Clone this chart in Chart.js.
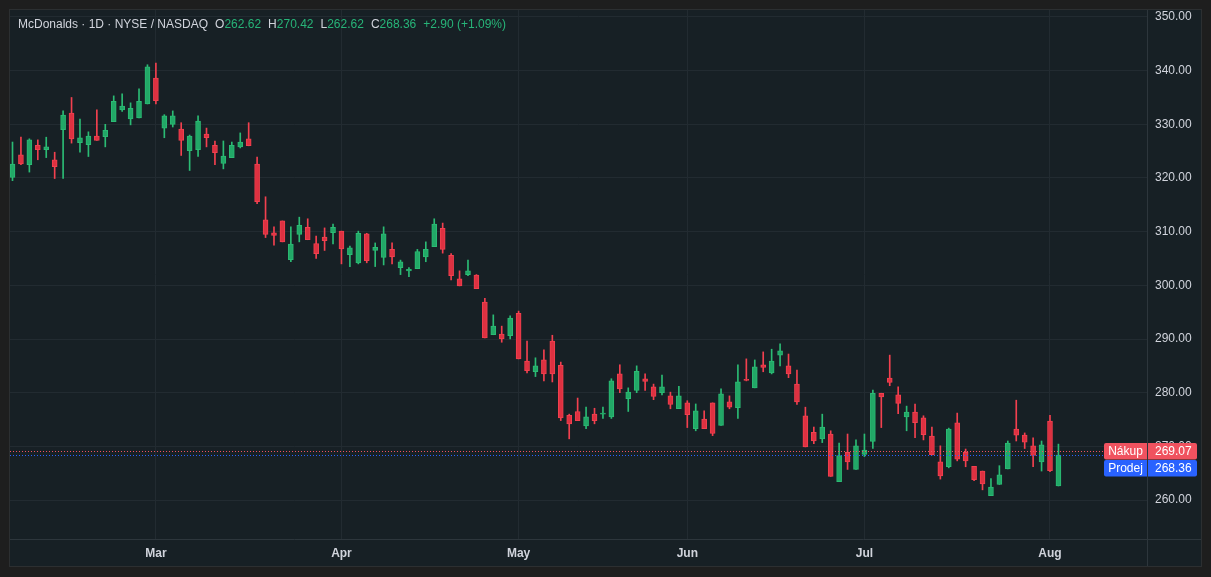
<!DOCTYPE html>
<html>
<head>
<meta charset="utf-8">
<script src="https://cdn.jsdelivr.net/npm/chart.js@4.4.1/dist/chart.umd.min.js"></script>
<style>
  html, body { margin: 0; padding: 0; background: #1e1e1e; width: 1211px; height: 577px; overflow: hidden; }
  #panel { position: absolute; left: 9px; top: 9px; width: 1191px; height: 556px; border: 1px solid #2c2f31; background: #172025; }
  #chart { position: absolute; left: 0; top: 0; width: 1191px; height: 556px; }
  #legend { position: absolute; left: 8px; top: 6px; font: 12px "Liberation Sans", Arial, sans-serif; color: #d1d4dc; line-height: 16px; white-space: nowrap; }
  #legend .v { color: #27b478; }
  #legend .g { margin-left: 7px; }
</style>
</head>
<body>
<div id="panel">
  <canvas id="chart" width="1191" height="556"></canvas>
  <div id="legend">McDonalds · 1D · NYSE / NASDAQ<span class="g">O<span class="v">262.62</span></span><span class="g">H<span class="v">270.42</span></span><span class="g">L<span class="v">262.62</span></span><span class="g">C<span class="v">268.36</span></span><span class="g v">+2.90 (+1.09%)</span></div>
</div>
<script>
// daily candles
const opens = [
  320.1, 324.3, 322.5, 326.1, 325.3, 323.4, 329.0, 332.1, 326.6, 326.2,
  327.8, 327.7, 330.5, 332.7, 331.0, 331.2, 333.8, 338.6, 329.3, 330.0,
  329.1, 325.1, 325.3, 328.2, 326.1, 322.7, 323.8, 325.8, 327.3, 322.6,
  312.2, 309.8, 312.0, 304.8, 309.5, 310.8, 307.8, 309.0, 309.8, 310.1,
  305.7, 304.2, 309.6, 306.5, 305.2, 306.7, 303.3, 302.7, 303.1, 305.3,
  307.2, 310.6, 305.6, 301.2, 302.0, 301.9, 296.9, 290.8, 290.9, 290.6,
  294.8, 285.9, 283.9, 286.1, 289.6, 285.1, 275.8, 276.5, 273.8, 276.0,
  276.0, 275.5, 283.5, 278.9, 280.4, 282.6, 281.1, 280.0, 279.4, 277.0,
  278.1, 273.3, 275.1, 278.1, 273.9, 278.3, 277.2, 282.5, 280.9, 285.2,
  283.7, 287.0, 285.0, 281.6, 275.7, 272.6, 271.4, 272.3, 263.4, 268.9,
  265.7, 268.5, 270.9, 279.9, 282.7, 279.6, 275.5, 276.4, 275.3, 271.9,
  267.1, 266.2, 274.4, 268.9, 266.3, 265.4, 260.8, 262.9, 265.8, 273.2,
  272.1, 270.1, 267.1, 274.7, 262.62
];
const highs = [
  326.7, 327.6, 327.3, 327.1, 327.6, 324.8, 332.5, 335.0, 331.0, 328.6,
  332.7, 330.0, 335.3, 335.7, 334.0, 336.6, 341.1, 341.4, 331.8, 332.5,
  330.3, 328.0, 331.6, 329.3, 326.9, 326.9, 326.7, 328.4, 330.3, 323.9,
  316.5, 310.9, 312.0, 310.9, 312.7, 312.4, 309.2, 310.7, 311.4, 310.1,
  307.3, 310.1, 309.7, 307.9, 310.9, 307.9, 304.7, 303.3, 306.7, 308.1,
  312.4, 311.6, 305.9, 302.7, 304.7, 302.0, 297.6, 294.5, 292.4, 294.3,
  295.2, 289.6, 286.5, 288.0, 290.7, 285.7, 276.0, 279.0, 277.3, 277.1,
  277.3, 282.6, 285.2, 280.9, 285.0, 283.5, 281.6, 283.3, 280.1, 281.2,
  278.5, 277.9, 276.6, 278.1, 280.7, 279.4, 285.2, 286.3, 286.1, 287.6,
  288.1, 289.1, 287.2, 284.2, 277.3, 273.6, 276.0, 272.9, 270.6, 272.3,
  271.2, 272.3, 280.5, 279.9, 287.0, 281.1, 277.5, 277.9, 275.7, 273.6,
  270.1, 273.4, 276.2, 269.5, 266.3, 265.4, 264.0, 266.4, 271.0, 278.6,
  272.5, 271.6, 271.0, 275.8, 270.42
];
const lows = [
  319.5, 322.5, 321.1, 323.4, 323.8, 319.9, 319.9, 326.5, 324.8, 324.0,
  327.0, 325.8, 330.5, 332.4, 329.9, 331.2, 333.8, 333.8, 327.5, 329.5,
  324.2, 321.4, 324.0, 325.8, 322.5, 321.7, 323.8, 325.6, 326.0, 315.2,
  308.9, 307.5, 308.1, 304.4, 308.1, 308.5, 305.0, 306.5, 307.7, 304.0,
  303.5, 304.0, 304.2, 303.5, 303.8, 304.0, 302.0, 301.6, 303.1, 304.4,
  307.2, 306.0, 301.0, 299.9, 301.8, 299.4, 290.2, 290.8, 289.4, 290.0,
  286.3, 283.7, 283.0, 282.2, 282.0, 274.8, 271.4, 274.8, 273.3, 274.2,
  275.2, 275.2, 280.0, 276.5, 280.0, 280.4, 278.7, 279.6, 277.0, 277.0,
  273.5, 272.9, 273.3, 272.0, 273.9, 277.0, 275.2, 282.2, 280.9, 283.9,
  283.5, 285.0, 282.8, 277.8, 269.9, 270.5, 270.7, 264.4, 263.4, 265.7,
  265.7, 268.1, 269.6, 273.5, 281.3, 276.1, 272.9, 271.6, 271.2, 268.4,
  263.9, 266.0, 267.3, 266.2, 263.6, 261.9, 260.8, 262.9, 265.8, 271.0,
  269.6, 266.2, 265.4, 265.3, 262.62
];
const closes = [
  322.6, 322.6, 327.1, 325.3, 325.8, 322.1, 331.7, 327.3, 327.5, 327.8,
  327.0, 328.9, 334.3, 333.4, 333.0, 334.3, 340.7, 334.4, 331.6, 331.6,
  327.0, 327.8, 330.6, 327.5, 324.7, 324.1, 326.1, 326.7, 326.0, 315.6,
  309.5, 309.3, 308.1, 307.7, 311.2, 308.5, 305.9, 308.3, 310.8, 306.8,
  307.0, 309.7, 304.6, 307.1, 309.6, 305.3, 304.4, 303.0, 306.3, 306.7,
  311.4, 306.7, 301.8, 299.9, 302.7, 299.4, 290.2, 292.4, 290.0, 293.9,
  286.3, 284.1, 285.0, 283.5, 283.5, 275.3, 274.2, 274.8, 275.5, 274.8,
  276.2, 282.2, 280.7, 280.1, 284.0, 282.1, 279.3, 281.1, 277.8, 279.4,
  275.9, 276.6, 273.3, 272.4, 279.8, 277.3, 282.0, 282.3, 284.8, 284.7,
  285.9, 287.8, 283.5, 278.3, 269.9, 271.0, 273.6, 264.4, 268.3, 267.1,
  270.1, 269.3, 279.9, 279.2, 281.9, 278.0, 276.4, 274.4, 272.2, 268.4,
  264.5, 273.2, 267.6, 267.3, 263.8, 263.0, 262.4, 264.7, 270.6, 272.1,
  270.8, 268.3, 270.3, 265.46, 268.36
];

// x axis: month names at the first trading day of each month
const monthIdx = [17, 39, 60, 80, 101, 123];
const monthNames = ['Mar', 'Apr', 'May', 'Jun', 'Jul', 'Aug'];
// y axis
const priceTicks = [260, 270, 280, 290, 300, 310, 320, 330, 340, 350];
// bid / ask marks
const buyPrice = 269.07;
const sellPrice = 268.36;

const UP = '#22a867', UP_EDGE = '#2bbb74';
const DOWN = '#de3141', DOWN_EDGE = '#f2404f';
const GRID = '#222b31';
const AXIS = '#2d363c';
const TEXT = '#d1d4dc';

const up = opens.map((o, i) => closes[i] >= o);
const wicks = opens.map((o, i) => ({ x: i, y: [lows[i], highs[i]] }));
const bodies = opens.map((o, i) => ({ x: i, y: [o, closes[i]] }));

const priceLines = {
  id: 'priceLines',
  afterDraw(chart) {
    const { ctx, chartArea: a, scales: { y } } = chart;
    const W = chart.width, H = chart.height;
    ctx.save();
    // axis separators running into the corner
    ctx.strokeStyle = AXIS;
    ctx.lineWidth = 1;
    ctx.beginPath();
    ctx.moveTo(a.right + 0.5, a.bottom);
    ctx.lineTo(a.right + 0.5, H);
    ctx.moveTo(a.right, a.bottom + 0.5);
    ctx.lineTo(W, a.bottom + 0.5);
    ctx.stroke();

    const yb = Math.round(y.getPixelForValue(buyPrice)) + 0.5;
    const ys = Math.round(y.getPixelForValue(sellPrice)) + 0.5;
    const badgeL = a.right - 43;
    ctx.setLineDash([1, 2]);
    ctx.strokeStyle = '#f0525f';
    ctx.beginPath(); ctx.moveTo(a.left, yb); ctx.lineTo(badgeL, yb); ctx.stroke();
    ctx.strokeStyle = '#2962ff';
    ctx.beginPath(); ctx.moveTo(a.left, ys); ctx.lineTo(badgeL, ys); ctx.stroke();
    ctx.setLineDash([]);

    // badges
    const bh = 16.5;
    const rows = [
      { top: yb - 8.5, bg: '#f0525f', name: 'Nákup', val: buyPrice },
      { top: yb - 8.5 + bh + 0.5, bg: '#2962ff', name: 'Prodej', val: sellPrice }
    ];
    ctx.font = '12px "Liberation Sans", Arial, sans-serif';
    ctx.textBaseline = 'middle';
    rows.forEach(r => {
      ctx.fillStyle = r.bg;
      ctx.beginPath(); ctx.roundRect(badgeL, r.top, 43, bh, [2, 0, 0, 2]); ctx.fill();
      ctx.beginPath(); ctx.roundRect(a.right + 1, r.top, 49, bh, [0, 2, 2, 0]); ctx.fill();
      ctx.fillStyle = '#ffffff';
      ctx.textAlign = 'center';
      ctx.fillText(r.name, badgeL + 21.5, r.top + bh / 2);
      ctx.textAlign = 'left';
      ctx.fillText(r.val.toFixed(2), a.right + 8, r.top + bh / 2);
    });
    ctx.restore();
  }
};

new Chart(document.getElementById('chart'), {
  type: 'bar',
  data: {
    datasets: [
      {
        data: wicks,
        backgroundColor: up.map(u => u ? UP_EDGE : DOWN_EDGE),
        barThickness: 1,
        grouped: false,
        order: 2
      },
      {
        data: bodies,
        backgroundColor: up.map(u => u ? UP : DOWN),
        borderColor: up.map(u => u ? UP_EDGE : DOWN_EDGE),
        borderWidth: 1,
        borderSkipped: false,
        barThickness: 5,
        minBarLength: 1,
        grouped: false,
        order: 1
      }
    ]
  },
  options: {
    responsive: false,
    animation: false,
    layout: { padding: 0 },
    plugins: { legend: { display: false }, tooltip: { enabled: false } },
    scales: {
      x: {
        type: 'linear',
        offset: false,
        min: -0.296,
        max: 134.5,
        grid: { color: GRID, drawTicks: false, offset: false },
        border: { color: AXIS },
        ticks: {
          color: TEXT,
          font: { family: '"Liberation Sans", Arial, sans-serif', size: 12, weight: 'bold' },
          padding: 7,
          maxRotation: 0,
          autoSkip: false,
          callback: v => monthNames[monthIdx.indexOf(v)] || ''
        },
        afterBuildTicks: s => { s.ticks = monthIdx.map(v => ({ value: v })); },
        afterFit: s => { s.height = 27; s.paddingLeft = 0; s.paddingRight = 0; }
      },
      y: {
        position: 'right',
        min: 252.74,
        max: 351.30,
        grid: { color: GRID, drawTicks: false },
        border: { color: AXIS },
        ticks: {
          color: TEXT,
          font: { family: '"Liberation Sans", Arial, sans-serif', size: 12 },
          padding: 8,
          callback: v => v.toFixed(2)
        },
        afterBuildTicks: s => { s.ticks = priceTicks.map(v => ({ value: v })); },
        afterFit: s => { s.width = 54; s.paddingTop = 0; s.paddingBottom = 0; }
      }
    }
  },
  plugins: [priceLines]
});
</script>
</body>
</html>
